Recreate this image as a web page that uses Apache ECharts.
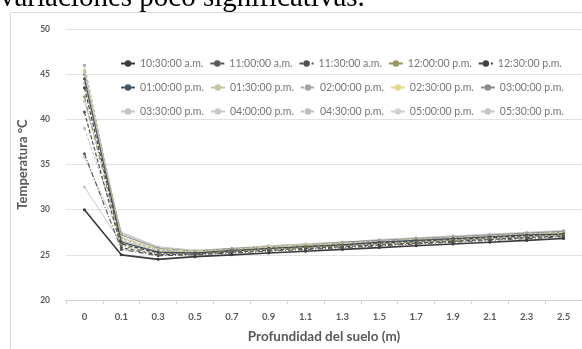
<!DOCTYPE html>
<html>
<head>
<meta charset="utf-8">
<script src="https://cdn.jsdelivr.net/npm/echarts@6/dist/echarts.min.js"></script>
<style>
html,body{margin:0;padding:0;background:#fff;}
#c{width:582px;height:349px;}
</style>
</head>
<body>
<div id="c"></div>
<script>
const categories = ['0','0.1','0.3','0.5','0.7','0.9','1.1','1.3','1.5','1.7','1.9','2.1','2.3','2.5'];
const seriesNames = ['10:30:00 a.m.','11:00:00 a.m.','11:30:00 a.m.','12:00:00 p.m.','12:30:00 p.m.',
  '01:00:00 p.m.','01:30:00 p.m.','02:00:00 p.m.','02:30:00 p.m.','03:00:00 p.m.',
  '03:30:00 p.m.','04:00:00 p.m.','04:30:00 p.m.','05:00:00 p.m.','05:30:00 p.m.'];
const yTicks = [20,25,30,35,40,45,50];

const s1030 = [30.0, 25.0, 24.5, 24.8, 25.0, 25.2, 25.4, 25.6, 25.8, 26.0, 26.2, 26.4, 26.6, 26.8];
const s1100 = [36.2, 25.6, 24.9, 25.0, 25.2, 25.4, 25.6, 25.8, 26.0, 26.2, 26.4, 26.6, 26.8, 27.0];
const s1130 = [40.8, 25.8, 25.0, 25.1, 25.3, 25.5, 25.7, 25.9, 26.1, 26.3, 26.5, 26.7, 26.9, 27.1];
const s1200 = [42.5, 26.0, 25.1, 25.1, 25.4, 25.6, 25.8, 26.0, 26.2, 26.4, 26.6, 26.8, 27.0, 27.2];
const s1230 = [43.5, 26.2, 25.2, 25.2, 25.4, 25.7, 25.9, 26.1, 26.3, 26.5, 26.7, 26.9, 27.1, 27.3];
const s0100 = [44.5, 26.4, 25.3, 25.2, 25.5, 25.7, 25.9, 26.1, 26.4, 26.6, 26.8, 27.0, 27.2, 27.3];
const s0130 = [45.3, 26.6, 25.4, 25.3, 25.5, 25.8, 26.0, 26.2, 26.4, 26.6, 26.8, 27.0, 27.2, 27.4];
const s0200 = [46.0, 26.8, 25.5, 25.3, 25.6, 25.8, 26.0, 26.3, 26.5, 26.7, 26.9, 27.1, 27.3, 27.5];
const s0230 = [45.5, 27.0, 25.6, 25.4, 25.6, 25.9, 26.1, 26.3, 26.5, 26.7, 26.9, 27.1, 27.3, 27.5];
const s0300 = [45.0, 27.2, 25.7, 25.4, 25.7, 25.9, 26.1, 26.4, 26.6, 26.8, 27.0, 27.2, 27.4, 27.6];
const s0330 = [44.0, 27.4, 25.8, 25.5, 25.7, 26.0, 26.2, 26.4, 26.6, 26.8, 27.0, 27.2, 27.4, 27.6];
const s0400 = [42.0, 27.5, 25.9, 25.5, 25.7, 26.0, 26.2, 26.4, 26.7, 26.9, 27.1, 27.3, 27.5, 27.7];
const s0430 = [39.0, 27.3, 25.8, 25.4, 25.6, 25.9, 26.1, 26.3, 26.5, 26.7, 26.9, 27.1, 27.3, 27.5];
const s0500 = [35.8, 26.9, 25.6, 25.3, 25.5, 25.8, 26.0, 26.2, 26.4, 26.6, 26.8, 27.0, 27.2, 27.4];
const s0530 = [32.5, 26.3, 25.3, 25.2, 25.4, 25.6, 25.8, 26.0, 26.2, 26.4, 26.6, 26.8, 27.0, 27.2];

const seriesValues = [s1030,s1100,s1130,s1200,s1230,s0100,s0130,s0200,s0230,s0300,s0330,s0400,s0430,s0500,s0530];

const styles = [
  {c:'#3a3a3a', t:'solid', w:1.6},
  {c:'#5a5a5a', t:[5,2,1,2], w:1.2},
  {c:'#505050', t:[4,2], w:1.2},
  {c:'#9a9660', t:[5,2,1,2], w:1.2},
  {c:'#404040', t:[4,2], w:1.2},
  {c:'#44546a', t:'solid', w:1.2},
  {c:'#c8c6a0', t:'solid', w:1.2},
  {c:'#a6a6a6', t:[3,2], w:1},
  {c:'#e3d98a', t:[5,2,1,2], w:1.2},
  {c:'#8c8c8c', t:'solid', w:1},
  {c:'#c4c4c4', t:'solid', w:1},
  {c:'#c8c8c8', t:'solid', w:1},
  {c:'#bdbdbd', t:[3,2], w:1},
  {c:'#d0d0d0', t:'solid', w:1},
  {c:'#c6c6c6', t:'solid', w:1}
];

const font = 'Lato';
const series = seriesNames.map((n,i)=>({
  name:n, type:'line', data:seriesValues[i],
  symbol:'circle', symbolSize:3, showSymbol:true,
  lineStyle:{color:styles[i].c, type:styles[i].t, width:styles[i].w},
  itemStyle:{color:styles[i].c},
  z: 20 - i
}));
series.reverse();

const rowsTop = [53, 77, 101];
const legends = [0,1,2].map(r=>({
  data: seriesNames.slice(r*5, r*5+5),
  left: 115, top: rowsTop[r], width: 520, orient:'horizontal',
  itemWidth:14, itemHeight:8, itemGap:6,
  textStyle:{fontFamily:font, fontSize:10.5, color:'#767676'},
  selectedMode:false
}));

const chart = echarts.init(document.getElementById('c'), null, {renderer:'canvas'});
chart.setOption({
  backgroundColor:'#ffffff',
  animation:false,
  graphic:[
    {type:'rect', shape:{x:10.5, y:12.5, width:600, height:400}, style:{fill:'none', stroke:'#d9d9d9', lineWidth:1}, z:-1},
    {type:'text', style:{text:'variaciones poco significativas.', x:0, y:13, font:'29px "Liberation Serif"', fill:'#000', verticalAlign:'bottom'}}
  ],
  legend: legends,
  grid:{left:66, top:29, width:525, height:277},
  xAxis:{
    type:'category', data:categories, boundaryGap:true,
    axisLine:{lineStyle:{color:'#d0d0d0'}},
    axisTick:{show:true, length:4, lineStyle:{color:'#d0d0d0'}},
    axisLabel:{fontFamily:font, fontWeight:'bold', fontSize:9.5, color:'#595959', margin:12},
    name:'Profundidad del suelo (m)', nameLocation:'middle', nameGap:30,
    nameTextStyle:{fontFamily:font, fontWeight:'bold', fontSize:13.5, color:'#595959'}
  },
  yAxis:{
    type:'value', min:20, max:50, interval:5,
    axisLine:{show:false}, axisTick:{show:false},
    splitLine:{lineStyle:{color:'#e2e2e2'}},
    axisLabel:{fontFamily:font, fontWeight:'bold', fontSize:8.5, color:'#595959', margin:16,
      formatter:v=> yTicks.includes(v) ? String(v) : ''},
    name:'Temperatura °C', nameLocation:'middle', nameGap:27, nameRotate:90,
    nameTextStyle:{fontFamily:font, fontWeight:'bold', fontSize:13, color:'#595959'}
  },
  series: series
});
</script>
</body>
</html>
